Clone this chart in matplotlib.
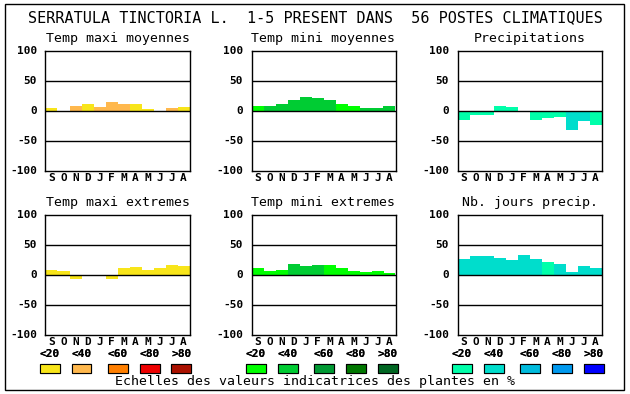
import matplotlib
matplotlib.use("Agg")
import matplotlib.pyplot as plt
from matplotlib.patches import Rectangle

W, H = 630, 394

TITLE = "SERRATULA TINCTORIA L.  1-5 PRESENT DANS  56 POSTES CLIMATIQUES"
MONTHS = ["S", "O", "N", "D", "J", "F", "M", "A", "M", "J", "J", "A"]
YTICKS = [100, 50, 0, -50, -100]
SCALE_LABELS = ["<20", "<40", "<60", "<80", ">80"]
FOOTER = "Echelles des valeurs indicatrices des plantes en %"

# colour scales (class 0..4 = <20 .. >80)
WARM = ["#f8e51a", "#ffb84d", "#ff7f00", "#ee0000", "#aa1100"]
GREEN = ["#00ff00", "#00cc33", "#009933", "#007700", "#006622"]
BLUE = ["#00ffaa", "#00ddcc", "#00bbdd", "#0099ee", "#0000ff"]

# panel values (% deviation) and colour class per month
tmax_moy = [4, -2, 7, 10.5, 5.5, 14, 10.5, 10.5, 2, 0, 4, 5.5]
tmax_moy_cls = [0, 1, 1, 0, 1, 1, 1, 0, 0, 0, 1, 0]
tmin_moy = [7, 7, 10.5, 17, 22, 20.5, 17, 10.5, 7, 4, 4, 7]
tmin_moy_cls = [0, 1, 1, 1, 1, 1, 1, 0, 0, 1, 1, 1]
precip = [-15.5, -8, -8, 7, 5.5, 0, -16, -12, -11, -33, -18, -24]
precip_cls = [0, 0, 0, 0, 0, 0, 0, 0, 0, 1, 1, 0]
tmax_ext = [7, 5.5, -8, -1, -1, -8, 10.5, 12, 7, 10.5, 15.5, 14]
tmax_ext_cls = [0, 0, 0, 1, 1, 0, 0, 0, 0, 0, 0, 0]
tmin_ext = [10.5, 5.5, 7, 17, 14, 15.5, 15.5, 10.5, 5.5, 4, 5.5, 2]
tmin_ext_cls = [0, 0, 0, 1, 1, 1, 0, 0, 0, 0, 0, 0]
jours = [25.5, 30.5, 30.5, 27, 24, 32, 25.5, 20.5, 17, 4, 14, 10.5]
jours_cls = [1, 1, 1, 1, 1, 1, 1, 0, 1, 1, 1, 1]

panels = [
    ("Temp maxi moyennes", tmax_moy, tmax_moy_cls, WARM),
    ("Temp mini moyennes", tmin_moy, tmin_moy_cls, GREEN),
    ("Precipitations", precip, precip_cls, BLUE),
    ("Temp maxi extremes", tmax_ext, tmax_ext_cls, WARM),
    ("Temp mini extremes", tmin_ext, tmin_ext_cls, GREEN),
    ("Nb. jours precip.", jours, jours_cls, BLUE),
]

MONO = "DejaVu Sans Mono"
fig = plt.figure(figsize=(W / 100, H / 100), dpi=100)


def px_axes(x0, y0, w, h):
    """Axes placed by pixel box (top-left origin)."""
    return fig.add_axes([x0 / W, 1 - (y0 + h) / H, w / W, h / H])


def fx(x):
    return x / W


def fy(y):
    return 1 - y / H


# outer frame
fig.patches.append(Rectangle((fx(5), fy(390)), fx(619), (386) / H, transform=fig.transFigure,
                             fill=False, ec="black", lw=1.0))
fig.text(fx(315), fy(18), TITLE, ha="center", va="center", family=MONO, fontsize=10.9)

lefts = [45.5, 251.5, 457.5]
tops = [50.5, 214.5]
for i, (name, vals, cls, pal) in enumerate(panels):
    x0, y0 = lefts[i % 3], tops[i // 3]
    ax = px_axes(x0, y0, 144, 120)
    ax.bar(range(12), vals, width=1.0, color=[pal[c] for c in cls], linewidth=0, zorder=1)
    for yv in (50, 0, -50):
        ax.axhline(yv, color="black", lw=1.0, zorder=2)
    ax.set_xlim(-0.5, 11.5)
    ax.set_ylim(-100, 100)
    ax.set_yticks(YTICKS)
    ax.set_yticklabels([str(v) for v in YTICKS], family=MONO, fontweight="bold", fontsize=8)
    ax.set_xticks(range(12))
    ax.set_xticklabels(MONTHS, family=MONO, fontweight="bold", fontsize=8)
    ax.tick_params(length=0, pad=2)
    ax.tick_params(axis="y", pad=6)
    for s in ax.spines.values():
        s.set_linewidth(1.0)
    fig.text(fx(x0 + 72), fy(y0 - 12), name, ha="center", va="center", family=MONO,
             fontsize=9.5)

    # colour-scale legend under the second row
    offs = [-6, 26, 62, 94, 126]
    for lab, off, col in zip(SCALE_LABELS, offs, pal):
        fig.text(fx(x0 + off + 10), fy(354), lab, ha="center", va="center", family=MONO,
                 fontweight="bold", fontsize=8)
        fig.patches.append(Rectangle((fx(x0 + off), fy(373)), 20 / W, 9 / H,
                                     transform=fig.transFigure, fc=col, ec="black", lw=0.8))

fig.text(fx(315), fy(382), FOOTER, ha="center", va="center", family=MONO, fontsize=9.5)

fig.savefig("out.png", dpi=100)
